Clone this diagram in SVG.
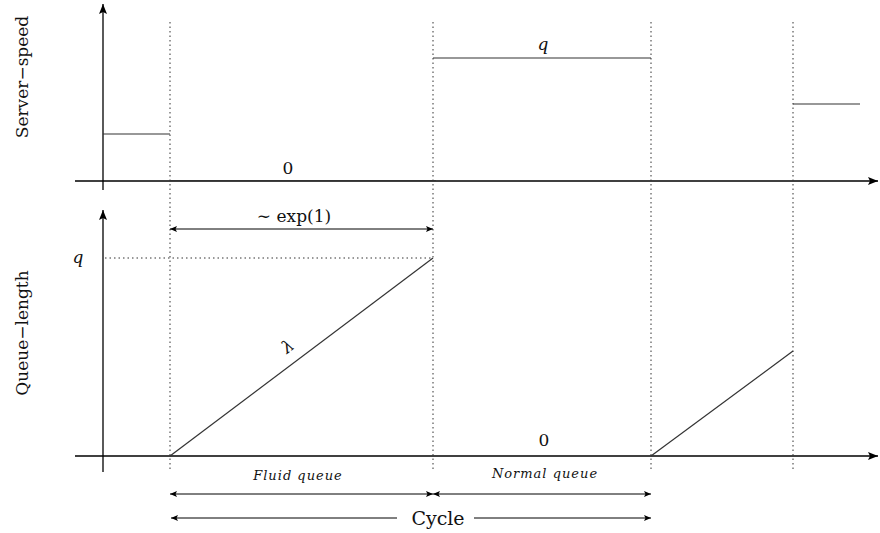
<svg xmlns="http://www.w3.org/2000/svg" width="880" height="533" viewBox="0 0 880 533">
<style>
.ax{stroke:#000;stroke-width:1.3;fill:none}
.ln{stroke:#333;stroke-width:1.2;fill:none}
.dot{stroke:#333;stroke-width:1;stroke-dasharray:1.5 3;fill:none}
.ar{stroke:#000;stroke-width:1;fill:none;marker-end:url(#ah)}
.ar2{stroke:#000;stroke-width:1;fill:none;marker-start:url(#ahs);marker-end:url(#ah)}
text{fill:#111;font-family:"DejaVu Serif","Liberation Serif",serif}
.t{font-size:17px}
.it{font-style:italic}
.sm{font-size:13px;font-style:italic;letter-spacing:1px}
</style>
<defs>
<marker id="ah" markerWidth="8" markerHeight="6" refX="7" refY="3" orient="auto" markerUnits="userSpaceOnUse"><path d="M0,0 L7,3 L0,6 L1.5,3 Z" fill="#000"/></marker>
<marker id="ahs" markerWidth="8" markerHeight="6" refX="0" refY="3" orient="auto" markerUnits="userSpaceOnUse"><path d="M7,0 L0,3 L7,6 L5.5,3 Z" fill="#000"/></marker>
<marker id="ahb" markerWidth="11" markerHeight="8" refX="10" refY="4" orient="auto" markerUnits="userSpaceOnUse"><path d="M0,0 L10,4 L0,8 L2,4 Z" fill="#000"/></marker>
</defs>
<g id="axes">
<line class="ax" x1="103" y1="190" x2="103" y2="4" marker-end="url(#ahb)"/>
<line class="ax" x1="75" y1="181" x2="878" y2="181" marker-end="url(#ahb)"/>
<line class="ax" x1="103" y1="472" x2="103" y2="210" marker-end="url(#ahb)"/>
<line class="ax" x1="75" y1="456" x2="878" y2="456" marker-end="url(#ahb)"/>
</g>
<g id="gridlines">
<line class="dot" x1="170" y1="22" x2="170" y2="472"/>
<line class="dot" x1="433" y1="22" x2="433" y2="472"/>
<line class="dot" x1="651" y1="22" x2="651" y2="472"/>
<line class="dot" x1="793" y1="22" x2="793" y2="472"/>
<line class="dot" x1="105" y1="258" x2="433" y2="258"/>
</g>
<g id="speed">
<line class="ln" x1="103" y1="134" x2="170" y2="134"/>
<line class="ln" x1="170" y1="180.5" x2="436" y2="180.5" stroke-width="1.6"/>
<line class="ln" x1="433" y1="58" x2="651" y2="58"/>
<line class="ln" x1="793" y1="104" x2="860" y2="104"/>
<text class="t" x="288" y="174" text-anchor="middle">0</text>
<text class="t it" x="543" y="50" text-anchor="middle">q</text>
</g>
<g id="queue">
<line class="ln" x1="170" y1="456" x2="433" y2="258"/>
<line class="ln" x1="651" y1="456" x2="793" y2="351"/>
<text class="t it" x="78" y="263" text-anchor="middle">q</text>
<text class="t" x="544" y="446" text-anchor="middle">0</text>
<text class="t it" transform="translate(291,351) rotate(-37)" text-anchor="middle">λ</text>
</g>
<g id="labels">
<text class="t" transform="translate(28,77) rotate(-90)" text-anchor="middle">Server−speed</text>
<text class="t" transform="translate(28,333) rotate(-90)" text-anchor="middle">Queue−length</text>
</g>
<g id="connectors">
<line class="ar2" x1="170" y1="229" x2="433" y2="229"/>
<text class="t" x="294" y="222" text-anchor="middle">∼ exp(1)</text>
<line class="ar2" x1="170" y1="494" x2="433" y2="494"/>
<line class="ar2" x1="433" y1="494" x2="651" y2="494"/>
<text class="sm" x="298" y="480" text-anchor="middle">Fluid queue</text>
<text class="sm" x="545" y="478" text-anchor="middle">Normal queue</text>
<line class="ar" x1="397" y1="518" x2="171" y2="518"/>
<line class="ar" x1="474" y1="518" x2="651" y2="518"/>
<text x="438" y="525" text-anchor="middle" font-size="19">Cycle</text>
</g>
</svg>
